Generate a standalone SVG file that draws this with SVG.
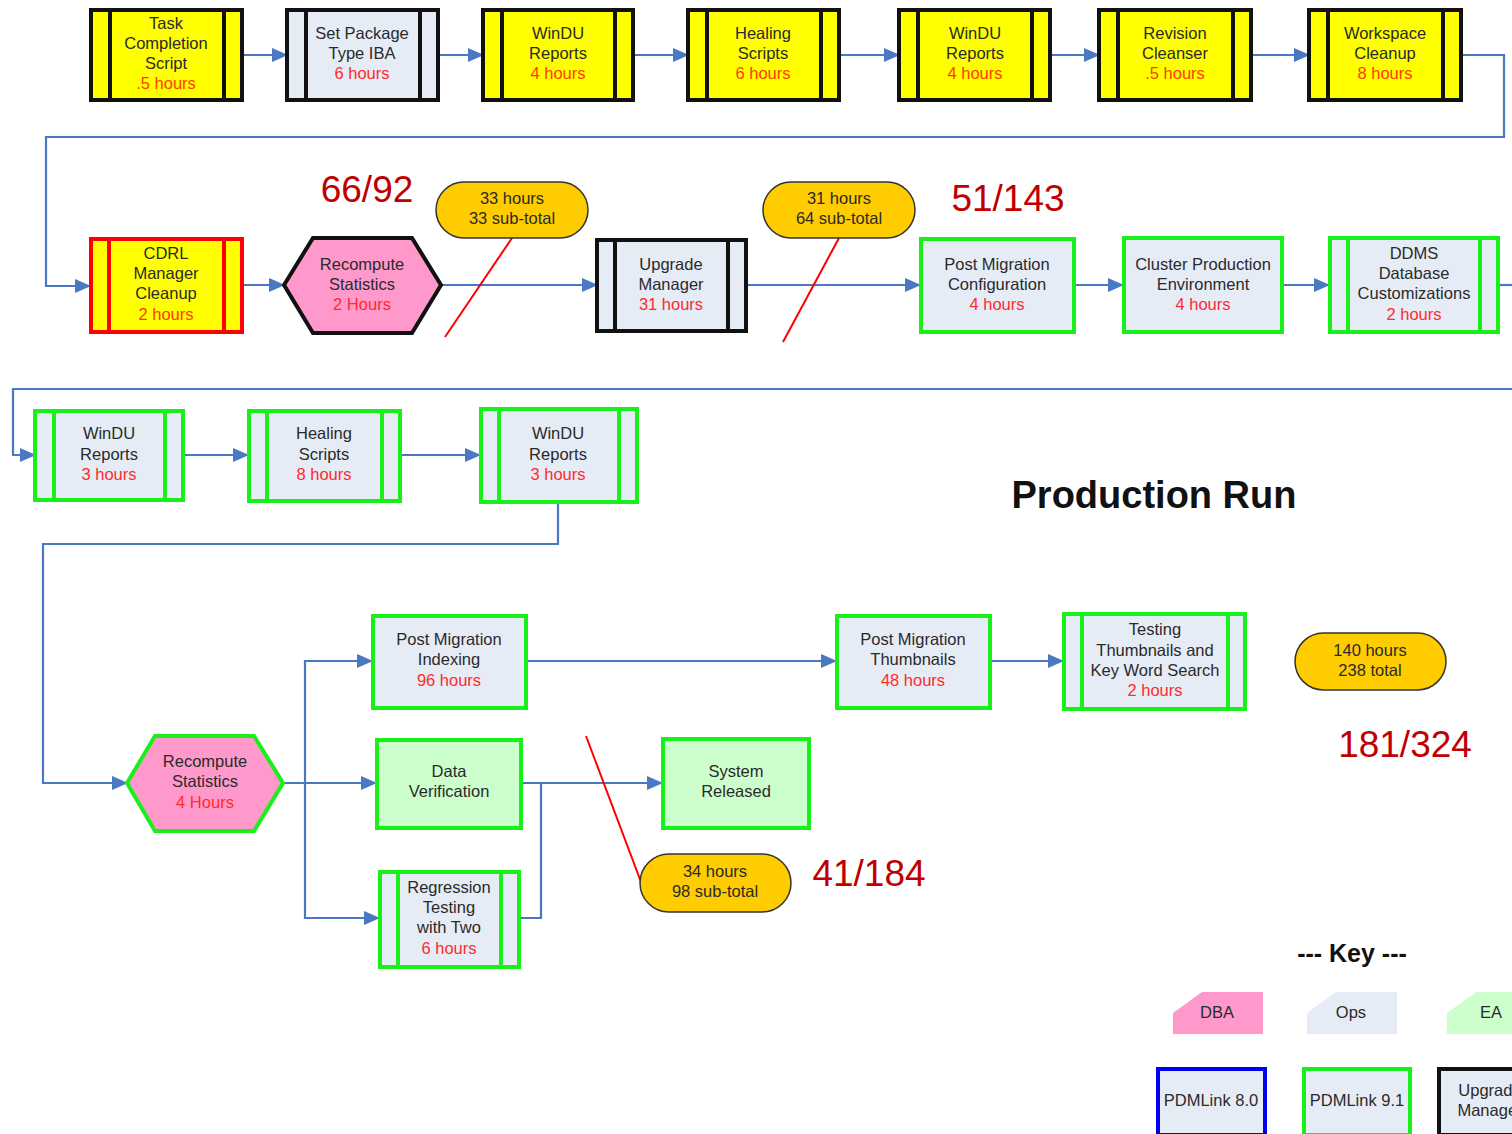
<svg xmlns="http://www.w3.org/2000/svg" width="1512" height="1134" viewBox="0 0 1512 1134">
  <defs>
    <marker id="arrow" markerUnits="userSpaceOnUse" markerWidth="16" markerHeight="14" refX="15" refY="7" orient="auto">
      <path d="M0,0 L16,7 L0,14 z" fill="#4A78C2"/>
    </marker>
    <style>
      text { font-family: "Liberation Sans", Arial, sans-serif; font-size: 16.5px; text-anchor: middle; fill: #2A2A2A; }
      .hrs { fill: #FF2A2A; }
      .hrsY { fill: #FF3C00; }
      .big { font-size: 37px; fill: #C00000; }
      .title { font-size: 38px; font-weight: bold; fill: #111; }
      .keyTitle { font-size: 25px; font-weight: bold; fill: #111; }
      .yellowBlack { fill: #FFFF00; stroke: #111; stroke-width: 4; }
      .opsBlack { fill: #E6ECF6; stroke: #111; stroke-width: 4; }
      .yellowRed { fill: #FFFF00; stroke: #FF0000; stroke-width: 4; }
      .opsGreen { fill: #E6ECF6; stroke: #19F019; stroke-width: 4; }
      .eaGreen { fill: #CCFFCC; stroke: #19F019; stroke-width: 4; }
      .opsBlue { fill: #E6ECF6; stroke: #0000F0; stroke-width: 4; }
      .bandBlack { stroke: #111; stroke-width: 4; }
      .bandRed { stroke: #FF0000; stroke-width: 4; }
      .bandGreen { stroke: #19F019; stroke-width: 4; }
      .pill { fill: #FFCC00; stroke: #333; stroke-width: 1.5; }
      .conn { fill: none; stroke: #4A78C2; stroke-width: 2.2; }
      .tick { stroke: #FF0000; stroke-width: 2; }
    </style>
  </defs>

  <rect width="1512" height="1134" fill="#FFFFFF"/>

  <!-- connectors -->
  <g id="connectors">
    <line class="conn" x1="242" y1="55" x2="287" y2="55" marker-end="url(#arrow)"/>
    <line class="conn" x1="438" y1="55" x2="483" y2="55" marker-end="url(#arrow)"/>
    <line class="conn" x1="633" y1="55" x2="688" y2="55" marker-end="url(#arrow)"/>
    <line class="conn" x1="839" y1="55" x2="899" y2="55" marker-end="url(#arrow)"/>
    <line class="conn" x1="1050" y1="55" x2="1099" y2="55" marker-end="url(#arrow)"/>
    <line class="conn" x1="1251" y1="55" x2="1309" y2="55" marker-end="url(#arrow)"/>
    <polyline class="conn" points="1461,55 1504,55 1504,137 46,137 46,286 90,286" marker-end="url(#arrow)"/>

    <line class="conn" x1="243" y1="285" x2="284" y2="285" marker-end="url(#arrow)"/>
    <line class="conn" x1="441" y1="285" x2="597" y2="285" marker-end="url(#arrow)"/>
    <line class="conn" x1="746" y1="285" x2="920" y2="285" marker-end="url(#arrow)"/>
    <line class="conn" x1="1075" y1="285" x2="1123" y2="285" marker-end="url(#arrow)"/>
    <line class="conn" x1="1283" y1="285" x2="1329" y2="285" marker-end="url(#arrow)"/>
    <line class="conn" x1="1499" y1="285" x2="1512" y2="285"/>
    <polyline class="conn" points="1512,389 13,389 13,455 35,455" marker-end="url(#arrow)"/>

    <line class="conn" x1="183" y1="455" x2="248" y2="455" marker-end="url(#arrow)"/>
    <line class="conn" x1="401" y1="455" x2="480" y2="455" marker-end="url(#arrow)"/>
    <polyline class="conn" points="558,503 558,544 43,544 43,783 127,783" marker-end="url(#arrow)"/>

    <line class="conn" x1="283" y1="783" x2="376" y2="783" marker-end="url(#arrow)"/>
    <polyline class="conn" points="305,783 305,661 372,661" marker-end="url(#arrow)"/>
    <polyline class="conn" points="305,783 305,918 379,918" marker-end="url(#arrow)"/>
    <line class="conn" x1="527" y1="661" x2="836" y2="661" marker-end="url(#arrow)"/>
    <line class="conn" x1="990" y1="661" x2="1063" y2="661" marker-end="url(#arrow)"/>
    <line class="conn" x1="522" y1="783" x2="662" y2="783" marker-end="url(#arrow)"/>
    <polyline class="conn" points="519,918 541,918 541,783"/>

    <!-- subtotal callout ticks -->
    <line class="tick" x1="512" y1="238" x2="445" y2="337"/>
    <line class="tick" x1="839" y1="238" x2="783" y2="342"/>
    <line class="tick" x1="586" y1="736" x2="641" y2="882"/>
  </g>

  <!-- row 1 -->
  <g id="task-completion-script">
    <rect class="yellowBlack" x="91" y="10" width="151" height="90"/>
    <line class="bandBlack" x1="110" y1="10" x2="110" y2="100"/>
    <line class="bandBlack" x1="224" y1="10" x2="224" y2="100"/>
    <text x="166" y="29">Task</text>
    <text x="166" y="49">Completion</text>
    <text x="166" y="69">Script</text>
    <text class="hrsY" x="166" y="89">.5 hours</text>
  </g>
  <g id="set-package-type">
    <rect class="opsBlack" x="287" y="10" width="151" height="90"/>
    <line class="bandBlack" x1="306" y1="10" x2="306" y2="100"/>
    <line class="bandBlack" x1="420" y1="10" x2="420" y2="100"/>
    <text x="362" y="39">Set Package</text>
    <text x="362" y="59">Type IBA</text>
    <text class="hrs" x="362" y="79">6 hours</text>
  </g>
  <g id="windu-reports-1">
    <rect class="yellowBlack" x="483" y="10" width="150" height="90"/>
    <line class="bandBlack" x1="502" y1="10" x2="502" y2="100"/>
    <line class="bandBlack" x1="615" y1="10" x2="615" y2="100"/>
    <text x="558" y="39">WinDU</text>
    <text x="558" y="59">Reports</text>
    <text class="hrsY" x="558" y="79">4 hours</text>
  </g>
  <g id="healing-scripts-1">
    <rect class="yellowBlack" x="688" y="10" width="151" height="90"/>
    <line class="bandBlack" x1="707" y1="10" x2="707" y2="100"/>
    <line class="bandBlack" x1="821" y1="10" x2="821" y2="100"/>
    <text x="763" y="39">Healing</text>
    <text x="763" y="59">Scripts</text>
    <text class="hrsY" x="763" y="79">6 hours</text>
  </g>
  <g id="windu-reports-2">
    <rect class="yellowBlack" x="899" y="10" width="151" height="90"/>
    <line class="bandBlack" x1="918" y1="10" x2="918" y2="100"/>
    <line class="bandBlack" x1="1032" y1="10" x2="1032" y2="100"/>
    <text x="975" y="39">WinDU</text>
    <text x="975" y="59">Reports</text>
    <text class="hrsY" x="975" y="79">4 hours</text>
  </g>
  <g id="revision-cleanser">
    <rect class="yellowBlack" x="1099" y="10" width="152" height="90"/>
    <line class="bandBlack" x1="1118" y1="10" x2="1118" y2="100"/>
    <line class="bandBlack" x1="1233" y1="10" x2="1233" y2="100"/>
    <text x="1175" y="39">Revision</text>
    <text x="1175" y="59">Cleanser</text>
    <text class="hrsY" x="1175" y="79">.5 hours</text>
  </g>
  <g id="workspace-cleanup">
    <rect class="yellowBlack" x="1309" y="10" width="152" height="90"/>
    <line class="bandBlack" x1="1328" y1="10" x2="1328" y2="100"/>
    <line class="bandBlack" x1="1443" y1="10" x2="1443" y2="100"/>
    <text x="1385" y="39">Workspace</text>
    <text x="1385" y="59">Cleanup</text>
    <text class="hrsY" x="1385" y="79">8 hours</text>
  </g>

  <!-- row 2 -->
  <g id="cdrl-manager-cleanup">
    <rect class="yellowRed" x="91" y="239" width="151" height="93"/>
    <line class="bandRed" x1="109" y1="239" x2="109" y2="332"/>
    <line class="bandRed" x1="224" y1="239" x2="224" y2="332"/>
    <text x="166" y="259">CDRL</text>
    <text x="166" y="279">Manager</text>
    <text x="166" y="299">Cleanup</text>
    <text class="hrsY" x="166" y="320">2 hours</text>
  </g>
  <g id="recompute-statistics-1">
    <polygon points="284,285 313,238 412,238 441,285 412,333 313,333" fill="#FF99CC" stroke="#111" stroke-width="4"/>
    <text x="362" y="270">Recompute</text>
    <text x="362" y="290">Statistics</text>
    <text class="hrs" x="362" y="310">2 Hours</text>
  </g>
  <g id="upgrade-manager">
    <rect class="opsBlack" x="597" y="240" width="149" height="91"/>
    <line class="bandBlack" x1="615" y1="240" x2="615" y2="331"/>
    <line class="bandBlack" x1="728" y1="240" x2="728" y2="331"/>
    <text x="671" y="270">Upgrade</text>
    <text x="671" y="290">Manager</text>
    <text class="hrs" x="671" y="310">31 hours</text>
  </g>
  <g id="post-migration-configuration">
    <rect class="opsGreen" x="921" y="239" width="153" height="93"/>
    <text x="997" y="270">Post Migration</text>
    <text x="997" y="290">Configuration</text>
    <text class="hrs" x="997" y="310">4 hours</text>
  </g>
  <g id="cluster-production-environment">
    <rect class="opsGreen" x="1124" y="238" width="158" height="94"/>
    <text x="1203" y="270">Cluster Production</text>
    <text x="1203" y="290">Environment</text>
    <text class="hrs" x="1203" y="310">4 hours</text>
  </g>
  <g id="ddms-database-customizations">
    <rect class="opsGreen" x="1330" y="238" width="168" height="94"/>
    <line class="bandGreen" x1="1348" y1="238" x2="1348" y2="332"/>
    <line class="bandGreen" x1="1480" y1="238" x2="1480" y2="332"/>
    <text x="1414" y="259">DDMS</text>
    <text x="1414" y="279">Database</text>
    <text x="1414" y="299">Customizations</text>
    <text class="hrs" x="1414" y="320">2 hours</text>
  </g>

  <!-- subtotal pills and tallies -->
  <g id="subtotal-33">
    <rect class="pill" x="436" y="182" width="152" height="56" rx="28"/>
    <text x="512" y="204">33 hours</text>
    <text x="512" y="224">33 sub-total</text>
  </g>
  <g id="subtotal-64">
    <rect class="pill" x="763" y="182" width="152" height="56" rx="28"/>
    <text x="839" y="204">31 hours</text>
    <text x="839" y="224">64 sub-total</text>
  </g>
  <text class="big" x="367" y="202">66/92</text>
  <text class="big" x="1008" y="211">51/143</text>

  <!-- row 3 -->
  <g id="windu-reports-3">
    <rect class="opsGreen" x="35" y="411" width="148" height="89"/>
    <line class="bandGreen" x1="54" y1="411" x2="54" y2="500"/>
    <line class="bandGreen" x1="165" y1="411" x2="165" y2="500"/>
    <text x="109" y="439">WinDU</text>
    <text x="109" y="460">Reports</text>
    <text class="hrs" x="109" y="480">3 hours</text>
  </g>
  <g id="healing-scripts-2">
    <rect class="opsGreen" x="249" y="411" width="151" height="90"/>
    <line class="bandGreen" x1="267" y1="411" x2="267" y2="501"/>
    <line class="bandGreen" x1="382" y1="411" x2="382" y2="501"/>
    <text x="324" y="439">Healing</text>
    <text x="324" y="460">Scripts</text>
    <text class="hrs" x="324" y="480">8 hours</text>
  </g>
  <g id="windu-reports-4">
    <rect class="opsGreen" x="481" y="409" width="156" height="93"/>
    <line class="bandGreen" x1="499" y1="409" x2="499" y2="502"/>
    <line class="bandGreen" x1="619" y1="409" x2="619" y2="502"/>
    <text x="558" y="439">WinDU</text>
    <text x="558" y="460">Reports</text>
    <text class="hrs" x="558" y="480">3 hours</text>
  </g>

  <text class="title" x="1154" y="508">Production Run</text>

  <!-- row 4 -->
  <g id="recompute-statistics-2">
    <polygon points="127,783 155,736 254,736 283,783 254,831 155,831" fill="#FF99CC" stroke="#19F019" stroke-width="4"/>
    <text x="205" y="767">Recompute</text>
    <text x="205" y="787">Statistics</text>
    <text class="hrs" x="205" y="808">4 Hours</text>
  </g>
  <g id="post-migration-indexing">
    <rect class="opsGreen" x="373" y="616" width="153" height="92"/>
    <text x="449" y="645">Post Migration</text>
    <text x="449" y="665">Indexing</text>
    <text class="hrs" x="449" y="686">96 hours</text>
  </g>
  <g id="data-verification">
    <rect class="eaGreen" x="377" y="740" width="144" height="88"/>
    <text x="449" y="777">Data</text>
    <text x="449" y="797">Verification</text>
  </g>
  <g id="regression-testing">
    <rect class="opsGreen" x="380" y="872" width="139" height="95"/>
    <line class="bandGreen" x1="398" y1="872" x2="398" y2="967"/>
    <line class="bandGreen" x1="501" y1="872" x2="501" y2="967"/>
    <text x="449" y="893">Regression</text>
    <text x="449" y="913">Testing</text>
    <text x="449" y="933">with Two</text>
    <text class="hrs" x="449" y="954">6 hours</text>
  </g>
  <g id="post-migration-thumbnails">
    <rect class="opsGreen" x="837" y="616" width="153" height="92"/>
    <text x="913" y="645">Post Migration</text>
    <text x="913" y="665">Thumbnails</text>
    <text class="hrs" x="913" y="686">48 hours</text>
  </g>
  <g id="testing-thumbnails">
    <rect class="opsGreen" x="1064" y="614" width="181" height="95"/>
    <line class="bandGreen" x1="1082" y1="614" x2="1082" y2="709"/>
    <line class="bandGreen" x1="1228" y1="614" x2="1228" y2="709"/>
    <text x="1155" y="635">Testing</text>
    <text x="1155" y="656">Thumbnails and</text>
    <text x="1155" y="676">Key Word Search</text>
    <text class="hrs" x="1155" y="696">2 hours</text>
  </g>
  <g id="system-released">
    <rect class="eaGreen" x="663" y="739" width="146" height="89"/>
    <text x="736" y="777">System</text>
    <text x="736" y="797">Released</text>
  </g>

  <g id="subtotal-98">
    <rect class="pill" x="640" y="854" width="151" height="58" rx="29"/>
    <text x="715" y="877">34  hours</text>
    <text x="715" y="897">98 sub-total</text>
  </g>
  <g id="total-238">
    <rect class="pill" x="1295" y="633" width="151" height="57" rx="28.5"/>
    <text x="1370" y="656">140 hours</text>
    <text x="1370" y="676">238 total</text>
  </g>
  <text class="big" x="869" y="886">41/184</text>
  <text class="big" x="1405" y="757">181/324</text>

  <!-- key -->
  <g id="key">
    <text class="keyTitle" x="1352" y="962">--- Key ---</text>
    <polygon points="1173,1013 1202,992 1263,992 1263,1034 1173,1034" fill="#FF99CC"/>
    <text x="1217" y="1018">DBA</text>
    <polygon points="1307,1013 1336,992 1397,992 1397,1034 1307,1034" fill="#E6ECF6"/>
    <text x="1351" y="1018">Ops</text>
    <polygon points="1447,1013 1476,992 1537,992 1537,1034 1447,1034" fill="#CCFFCC"/>
    <text x="1491" y="1018">EA</text>

    <rect class="opsBlue" x="1158" y="1069" width="107" height="66"/>
    <text x="1211" y="1106">PDMLink 8.0</text>
    <rect class="opsGreen" x="1304" y="1069" width="106" height="66"/>
    <text x="1357" y="1106">PDMLink 9.1</text>
    <rect class="opsBlack" x="1439" y="1069" width="100" height="66"/>
    <text x="1490" y="1096">Upgrade</text>
    <text x="1490" y="1116">Manager</text>
  </g>
</svg>
